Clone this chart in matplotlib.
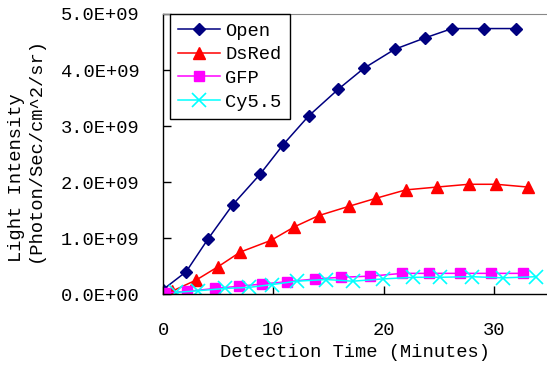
import matplotlib
matplotlib.use("Agg")
import matplotlib.pyplot as plt

plt.rcParams["font.family"] = ["Liberation Mono", "DejaVu Sans"]

# (time in minutes, intensity in 1e9 photon/s/cm^2/sr)
open_t = [0, 2.1, 4.1, 6.3, 8.8, 10.9, 13.2, 15.9, 18.2, 21.0, 23.7, 26.2, 29.1, 32.0]
open_v = [0.08, 0.40, 0.99, 1.59, 2.14, 2.67, 3.18, 3.66, 4.03, 4.37, 4.57, 4.74, 4.74, 4.74]

dsred_t = [0.8, 3.0, 5.0, 7.0, 9.8, 11.9, 14.1, 16.9, 19.3, 22.0, 24.8, 27.7, 30.2, 33.1]
dsred_v = [0.05, 0.25, 0.49, 0.75, 0.96, 1.20, 1.40, 1.57, 1.71, 1.86, 1.91, 1.96, 1.96, 1.91]

gfp_t = [0.2, 2.2, 4.7, 6.9, 9.0, 11.2, 13.8, 16.1, 18.8, 21.7, 24.1, 26.9, 29.7, 32.6]
gfp_v = [0.02, 0.05, 0.10, 0.14, 0.18, 0.22, 0.27, 0.30, 0.32, 0.37, 0.37, 0.37, 0.37, 0.37]

cy_t = [1.2, 3.2, 5.6, 7.8, 9.9, 12.1, 14.8, 17.2, 19.9, 22.7, 25.1, 28.0, 30.8, 33.8]
cy_v = [0.03, 0.06, 0.10, 0.12, 0.17, 0.23, 0.26, 0.23, 0.27, 0.30, 0.30, 0.31, 0.29, 0.31]

yticks = [0, 1, 2, 3, 4, 5]
ytick_labels = ["0.0E+00", "1.0E+09", "2.0E+09", "3.0E+09", "4.0E+09", "5.0E+09"]
xticks = [0, 10, 20, 30]

fig = plt.figure(figsize=(5.47, 3.78), dpi=100)
ax = fig.add_axes([0.298, 0.222, 0.702, 0.741])

ax.plot(open_t, open_v, color="#000080", marker="D", markersize=6.5, lw=1.1, label="Open")
ax.plot(dsred_t, dsred_v, color="#ff0000", marker="^", markersize=8.5, lw=1.1, label="DsRed")
ax.plot(gfp_t, gfp_v, color="#ff00ff", marker="s", markersize=7, lw=1.1, label="GFP")
ax.plot(cy_t, cy_v, color="#00ffff", marker="x", markersize=10, mew=1.2, lw=1.1, label="Cy5.5")

ax.set_xlim(0, 34.8)
ax.set_ylim(0, 5)
ax.set_yticks(yticks)
ax.set_yticklabels(ytick_labels)
ax.set_xticks(xticks)
ax.tick_params(direction="in", length=6, width=1, labelsize=13.5)
ax.tick_params(axis="y", pad=17)
ax.tick_params(axis="x", pad=20)

ax.spines["right"].set_visible(False)
ax.spines["top"].set_color("#888888")
ax.spines["left"].set_linewidth(1)
ax.spines["bottom"].set_linewidth(1)

ax.set_xlabel("Detection Time (Minutes)", fontsize=13.5, labelpad=4)
fig.text(26 / 547, 1 - 150 / 378, "Light Intensity\n(Photon/Sec/cm^2/sr)",
         rotation=90, ha="center", va="center", multialignment="left",
         fontsize=13.5, linespacing=1.15)

leg = ax.legend(loc="upper left", bbox_to_anchor=(0.018, 1.0), borderaxespad=0,
                fontsize=13.5, frameon=True, fancybox=False, framealpha=1,
                edgecolor="black", handlelength=2.2, handletextpad=0.3,
                labelspacing=0.35, borderpad=0.45)
leg.get_frame().set_linewidth(1)

fig.savefig("out.png", dpi=100)
